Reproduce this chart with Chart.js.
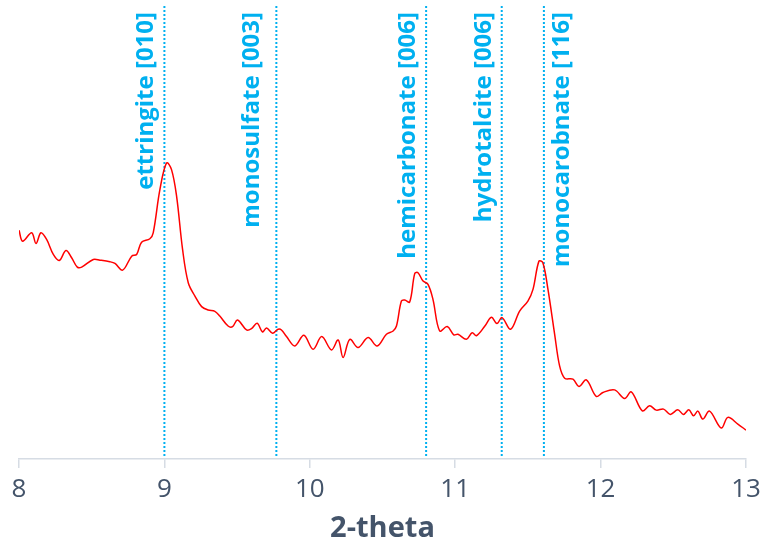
<!DOCTYPE html>
<html>
<head>
<meta charset="utf-8">
<script src="https://cdn.jsdelivr.net/npm/chart.js@4/dist/chart.umd.min.js"></script>
<style>
  html, body { margin: 0; padding: 0; background: #ffffff; }
  #wrap { width: 765px; height: 546px; }
</style>
</head>
<body>
<div id="wrap"><canvas id="xrd"></canvas></div>
<script>
// XRD scan: diffraction angle (2-theta, degrees)
const twoTheta = [
  8.000, 8.025, 8.087, 8.117, 8.151, 8.190, 8.236, 8.277, 8.323, 8.362,
  8.401, 8.431, 8.511, 8.557, 8.625, 8.660, 8.713, 8.775, 8.809, 8.843,
  8.900, 8.923, 8.969, 9.015, 9.049, 9.084, 9.125, 9.164, 9.210, 9.256,
  9.301, 9.347, 9.381, 9.438, 9.469, 9.503, 9.565, 9.599, 9.638, 9.675,
  9.702, 9.744, 9.782, 9.805, 9.840, 9.897, 9.959, 10.023, 10.082, 10.149,
  10.195, 10.229, 10.275, 10.332, 10.401, 10.463, 10.527, 10.573, 10.596, 10.630,
  10.653, 10.687, 10.722, 10.744, 10.779, 10.813, 10.847, 10.893, 10.945, 10.990,
  11.019, 11.077, 11.117, 11.146, 11.203, 11.249, 11.287, 11.322, 11.381, 11.443,
  11.500, 11.535, 11.576, 11.603, 11.638, 11.684, 11.718, 11.753, 11.810, 11.851,
  11.902, 11.970, 12.016, 12.096, 12.165, 12.211, 12.287, 12.337, 12.383, 12.433,
  12.479, 12.531, 12.570, 12.607, 12.639, 12.669, 12.703, 12.749, 12.830, 12.875,
  12.944, 13.000
];

// Measured intensity (arbitrary units)
const intensity = [
  229.3, 218.3, 226.7, 216.0, 226.7, 220.0, 205.0, 199.0, 209.0, 201.7,
  192.3, 192.3, 200.0, 199.3, 197.7, 196.0, 189.3, 203.3, 205.0, 217.3,
  220.7, 226.7, 270.0, 296.7, 290.0, 263.3, 210.0, 176.7, 163.3, 152.7,
  149.3, 148.0, 143.3, 133.3, 132.7, 139.3, 129.3, 130.7, 136.0, 127.3,
  131.3, 126.0, 130.0, 129.3, 122.7, 113.3, 124.0, 110.0, 122.7, 109.3,
  119.3, 101.7, 120.0, 111.7, 121.7, 113.3, 125.0, 128.3, 133.3, 158.3,
  159.3, 157.3, 186.0, 186.7, 178.3, 175.0, 160.0, 128.3, 132.7, 124.5,
  125.0, 120.0, 126.5, 123.5, 133.0, 142.0, 135.7, 141.7, 130.0, 148.3,
  158.3, 170.0, 198.3, 196.7, 170.0, 125.0, 93.3, 81.0, 80.0, 72.7,
  79.3, 62.7, 66.7, 69.3, 60.7, 67.3, 48.3, 53.3, 49.0, 50.0,
  44.7, 49.3, 44.7, 49.3, 43.3, 48.0, 40.0, 48.0, 31.0, 41.7,
  35.0, 29.0
];

// Reference reflections of the hydrate phases
const phaseNames = [
  'ettringite [010]',
  'monosulfate [003]',
  'hemicarbonate [006]',
  'hydrotalcite [006]',
  'monocarobnate [116]'
];
const phaseAngles = [9.00, 9.77, 10.80, 11.32, 11.61];

// Axis ticks
const tickValues = [8, 9, 10, 11, 12, 13];

// Vertical extent of the reference markers (same units as intensity)
const markerRange = [3, 455];

const BLUE = '#00B0F0';
const TEXT = '#44546A';

const scanData = twoTheta.map((x, i) => ({ x: x, y: intensity[i] }));

const markerSets = phaseAngles.map((a, i) => ({
  label: phaseNames[i],
  data: [{ x: a, y: markerRange[0] }, { x: a, y: markerRange[1] }],
  borderColor: BLUE,
  borderWidth: 2,
  borderDash: [2, 2],
  pointRadius: 0,
  tension: 0,
  fill: false
}));

// Label placement next to each marker line: side and gap in px
const labelSide = ['left', 'left', 'left', 'left', 'right'];
const labelGap = [6, 12, 6, 6, 6];

const phaseLabels = {
  id: 'phaseLabels',
  afterDatasetsDraw(chart) {
    const ctx = chart.ctx;
    const xs = chart.scales.x;
    const top = chart.chartArea.top + 7;
    ctx.save();
    ctx.fillStyle = BLUE;
    ctx.font = 'bold 24px "Open Sans", sans-serif';
    phaseNames.forEach((name, i) => {
      const px = xs.getPixelForValue(phaseAngles[i]);
      const left = labelSide[i] === 'left';
      ctx.save();
      ctx.translate(left ? px - labelGap[i] : px + labelGap[i], top);
      ctx.rotate(-Math.PI / 2);
      ctx.textAlign = 'right';
      ctx.textBaseline = left ? 'bottom' : 'top';
      ctx.fillText(name, 0, 0);
      ctx.restore();
    });
    ctx.restore();
  }
};

new Chart(document.getElementById('xrd'), {
  type: 'line',
  data: {
    datasets: [
      {
        label: 'scan',
        data: scanData,
        borderColor: '#FF0000',
        borderWidth: 1.5,
        pointRadius: 0,
        tension: 0.35,
        fill: false
      },
      ...markerSets
    ]
  },
  options: {
    responsive: true,
    maintainAspectRatio: false,
    animation: false,
    layout: { padding: { left: 19, right: 19, top: 5, bottom: 0 } },
    plugins: {
      legend: { display: false },
      tooltip: { enabled: false }
    },
    scales: {
      x: {
        type: 'linear',
        min: 8,
        max: 13,
        afterBuildTicks(axis) {
          axis.ticks = tickValues.map(v => ({ value: v }));
        },
        afterFit(axis) {
          axis.paddingLeft = 0;
          axis.paddingRight = 0;
        },
        grid: {
          display: true,
          drawOnChartArea: false,
          drawTicks: true,
          tickLength: 9,
          color: '#D6DCE4',
          lineWidth: 1.5
        },
        border: { display: true, color: '#D6DCE4', width: 1.5 },
        ticks: {
          color: TEXT,
          font: { family: '"Open Sans", sans-serif', size: 26 },
          padding: 6,
          maxRotation: 0
        },
        title: {
          display: true,
          text: '2-theta',
          color: TEXT,
          font: { family: '"Open Sans", sans-serif', size: 29, weight: 'bold' },
          padding: { top: 0, bottom: 0 }
        }
      },
      y: {
        display: false,
        min: 0,
        max: 455
      }
    }
  },
  plugins: [phaseLabels]
});
</script>
</body>
</html>
